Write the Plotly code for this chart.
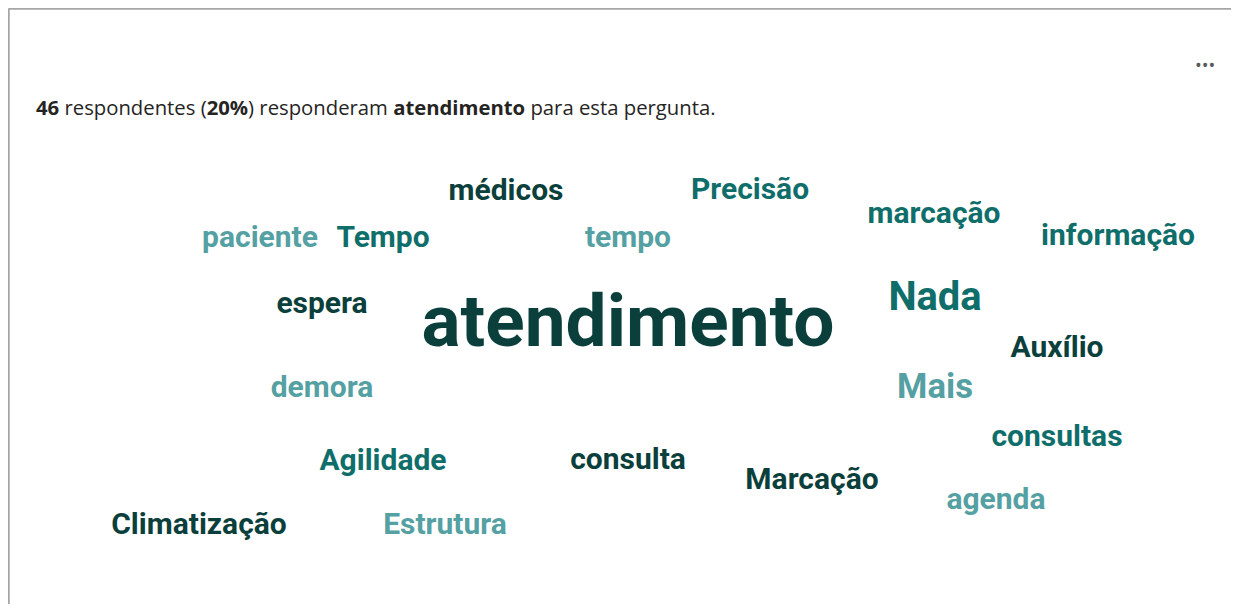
import math
import plotly.graph_objects as go

# ---- data ----
words = ["atendimento", "médicos", "Precisão", "marcação", "informação", "paciente",
         "Tempo", "tempo", "espera", "Nada", "Auxílio", "Mais", "demora", "consultas",
         "Agilidade", "consulta", "Marcação", "agenda", "Climatização", "Estrutura"]
weights = [46, 2, 2, 2, 2, 2, 2, 2, 2, 7, 2, 4, 2, 2, 2, 2, 2, 2, 2, 2]
tone = ["dark", "dark", "teal", "teal", "teal", "light",
        "teal", "light", "dark", "teal", "dark", "light", "light", "teal",
        "teal", "dark", "dark", "light", "dark", "light"]
# layout positions of each word in the cloud (page pixel space)
pos_x = [628, 506, 750, 934, 1118, 260, 383, 628, 322, 935, 1057, 935, 322, 1057,
         383, 628, 812, 996, 199, 445]
pos_y = [328, 193, 192, 216, 238, 240, 240, 240, 306, 300, 350, 389, 390, 439,
         463, 462, 482, 502, 527, 527]

respondents = 46
percent = 20
keyword = "atendimento"

# ---- styles ----
WORD_FONT = "Roboto, Liberation Sans, sans-serif"
HEAD_FONT = "Open Sans, Noto Sans, sans-serif"
palette = {"dark": "#0b3f3c", "teal": "#0f6e6a", "light": "#55a0a3"}
sizes = [8.01 * math.sqrt(w) + 18.67 for w in weights]
colors = [palette[t] for t in tone]

W, H = 1239, 612
OFF = 8  # page body margin
fig = go.Figure()
fig.add_trace(go.Scatter(
    x=pos_x, y=pos_y, mode="text", text=words,
    textposition="middle center",
    textfont=dict(family=WORD_FONT, size=sizes, color=colors, weight="bold"),
    hoverinfo="text", showlegend=False,
))

fig.add_annotation(
    x=34, y=107, xref="x", yref="y", xanchor="left", yanchor="middle",
    text=f"<b>{respondents}</b> respondentes (<b>{percent}%</b>) responderam <b>{keyword}</b> para esta pergunta.",
    showarrow=False, font=dict(family=HEAD_FONT, size=20.3, color="#252423"),
)
fig.add_annotation(
    x=1205, y=65, xref="x", yref="y", xanchor="center", yanchor="middle",
    text="•••", showarrow=False, font=dict(family=HEAD_FONT, size=18, color="#5a5a5a"),
)

# frame border (top + left)
fig.add_shape(type="line", xref="x", yref="y", x0=8.5, x1=W, y0=8.5, y1=8.5,
              line=dict(color="#a6a6a6", width=2.5))
fig.add_shape(type="line", xref="x", yref="y", x0=8.5, x1=8.5, y0=8.5, y1=H,
              line=dict(color="#a6a6a6", width=2.5))

fig.update_layout(
    width=W - 2 * OFF, height=H - 2 * OFF, margin=dict(l=0, r=0, t=0, b=0),
    paper_bgcolor="white", plot_bgcolor="white",
    xaxis=dict(range=[OFF, W - OFF], visible=False, fixedrange=True),
    yaxis=dict(range=[H - OFF, OFF], visible=False, fixedrange=True),
)
fig.write_html("out.html", config={"displayModeBar": False})
